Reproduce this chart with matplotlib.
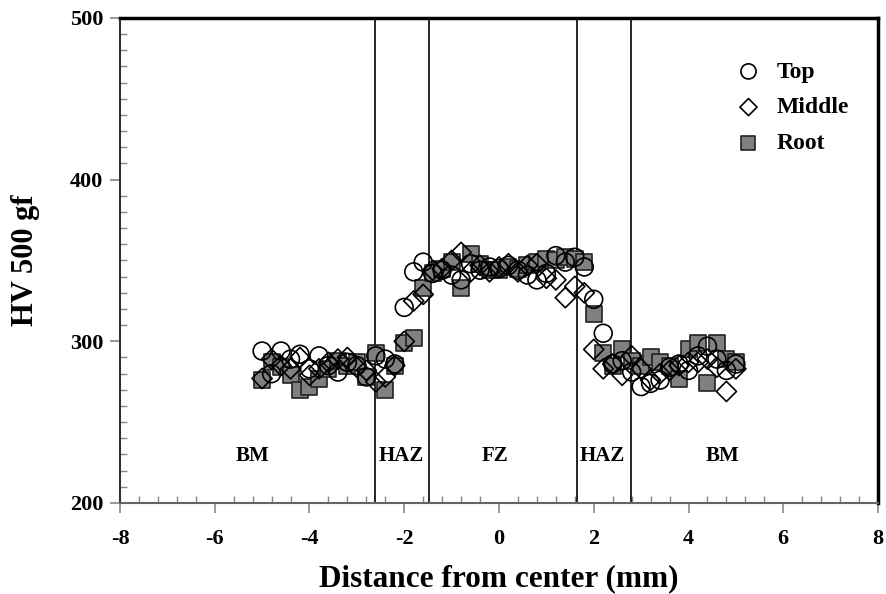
import numpy as np
import matplotlib.pyplot as plt
from matplotlib.ticker import MultipleLocator

# Hardness profile data
dist = [-5.0, -4.8, -4.6, -4.4, -4.2, -4.0, -3.8, -3.6, -3.4, -3.2, -3.0,
        -2.8, -2.6, -2.4, -2.2, -2.0, -1.8, -1.6, -1.4, -1.2, -1.0,
        -0.8, -0.6, -0.4, -0.2, 0.0, 0.2, 0.4, 0.6, 0.8, 1.0,
        1.2, 1.4, 1.6, 1.8, 2.0, 2.2, 2.4, 2.6, 2.8, 3.0,
        3.2, 3.4, 3.6, 3.8, 4.0, 4.2, 4.4, 4.6, 4.8, 5.0]

hv_top = [294, 280, 294, 289, 292, 283, 291, 285, 281, 287, 285,
          278, 291, 289, 286, 321, 343, 349, 342, 344, 341,
          338, 348, 344, 346, 345, 347, 344, 341, 338, 342,
          353, 349, 352, 346, 326, 305, 286, 288, 281, 272,
          274, 276, 284, 286, 282, 291, 297, 289, 282, 286]

hv_middle = [277, 289, 285, 283, 290, 279, 283, 287, 289, 290, 284,
             282, 275, 278, 285, 300, 325, 329, 344, 345, 350,
             355, 343, 347, 343, 346, 348, 343, 347, 348, 339,
             338, 327, 334, 330, 295, 283, 286, 279, 291, 283,
             276, 280, 282, 285, 287, 287, 289, 284, 269, 283]

hv_root = [276, 287, 284, 279, 270, 272, 277, 283, 288, 285, 287,
           278, 293, 270, 285, 299, 302, 333, 342, 345, 349,
           333, 354, 348, 344, 344, 346, 345, 347, 349, 351,
           350, 352, 351, 349, 317, 293, 285, 295, 288, 285,
           290, 287, 285, 277, 295, 299, 274, 299, 289, 287]

# zone boundaries and labels
boundaries = [-2.62, -1.48, 1.64, 2.78]
zone_names = ["BM", "HAZ", "FZ", "HAZ", "BM"]
zone_x = [-5.2, -2.07, -0.09, 2.19, 4.72]

plt.rcParams["font.family"] = ["Liberation Serif", "DejaVu Serif"]
plt.rcParams["font.weight"] = "bold"
plt.rcParams["axes.unicode_minus"] = False

fig = plt.figure(figsize=(8.86, 5.94), dpi=100)
ax = fig.add_axes([0.1354, 0.1532, 0.8556, 0.8165])

ax.scatter(dist, hv_root, marker="s", s=135, facecolor="#808080",
           edgecolor="#222222", linewidth=1.2, label="Root", zorder=3)
ax.scatter(dist, hv_middle, marker="D", s=105, facecolor="none",
           edgecolor="black", linewidth=1.2, label="Middle", zorder=4)
ax.scatter(dist, hv_top, marker="o", s=165, facecolor="none",
           edgecolor="black", linewidth=1.2, label="Top", zorder=5)

for b in boundaries:
    ax.axvline(b, color="black", linewidth=1.2, zorder=2)

for name, zx in zip(zone_names, zone_x):
    ax.text(zx, 229, name, ha="center", va="center", fontsize=15,
            fontweight="bold")

ax.set_xlim(-8, 8)
ax.set_ylim(200, 500)
ax.xaxis.set_major_locator(MultipleLocator(2))
ax.xaxis.set_minor_locator(MultipleLocator(0.4))
ax.yaxis.set_major_locator(MultipleLocator(100))
ax.yaxis.set_minor_locator(MultipleLocator(10))

ax.tick_params(which="major", direction="out", length=7, width=1.2,
               color="#888888", labelsize=16)
ax.tick_params(axis="x", which="major", pad=12)
ax.tick_params(axis="y", which="major", pad=5)
ax.tick_params(which="minor", direction="in", length=5, width=1,
               color="#888888")
for lbl in ax.get_xticklabels() + ax.get_yticklabels():
    lbl.set_fontweight("bold")

ax.spines["top"].set_linewidth(2.5)
ax.spines["right"].set_linewidth(2.5)
ax.spines["left"].set_color("#333333")
ax.spines["bottom"].set_color("#666666")
ax.spines["left"].set_linewidth(1.5)
ax.spines["bottom"].set_linewidth(1.5)

ax.set_xlabel("Distance from center (mm)", fontsize=22.5, fontweight="bold")
ax.xaxis.set_label_coords(0.5, -0.127)
ax.set_ylabel("HV 500 gf", fontsize=22, fontweight="bold")
ax.yaxis.set_label_coords(-0.106, 0.5)

handles, labels = ax.get_legend_handles_labels()
order = [2, 1, 0]
ax.legend([handles[i] for i in order], [labels[i] for i in order],
          loc="upper right", bbox_to_anchor=(0.99, 0.955), frameon=False,
          prop={"size": 17, "weight": "bold"}, handletextpad=0.2,
          labelspacing=0.6, scatterpoints=1, markerscale=0.85)

fig.savefig("out.png", dpi=100)
